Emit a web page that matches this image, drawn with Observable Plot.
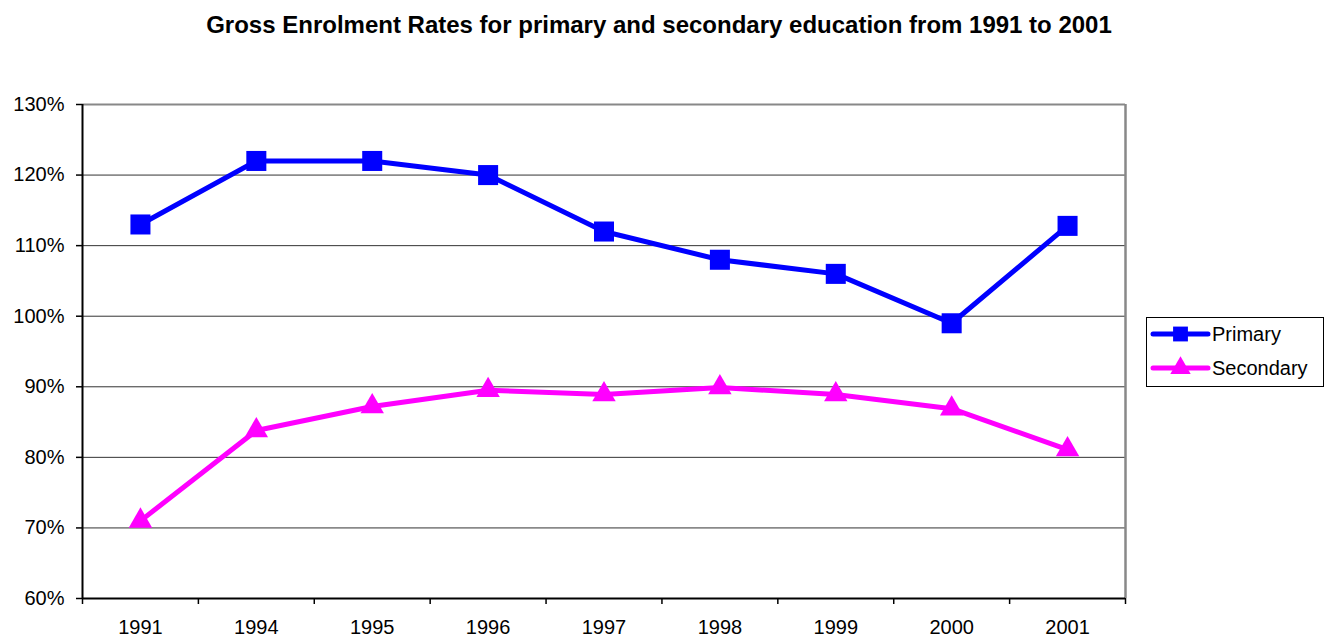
<!DOCTYPE html>
<html>
<head>
<meta charset="utf-8">
<script src="https://cdn.jsdelivr.net/npm/d3@7"></script>
<script src="https://cdn.jsdelivr.net/npm/@observablehq/plot@0.6"></script>
<style>
  html, body { margin: 0; padding: 0; background: #fff; }
  #wrap { position: relative; width: 1330px; height: 639px; overflow: hidden; font-family: Arial, "Liberation Sans", sans-serif; }
  #legend { position: absolute; left: 1146px; top: 317px; }
</style>
</head>
<body>
<div id="wrap"></div>
<script>
const years = ["1991", "1994", "1995", "1996", "1997", "1998", "1999", "2000", "2001"];
const primary = [113, 122, 122, 120, 112, 108, 106, 99, 112.8];
const secondary = [71, 83.8, 87.2, 89.5, 88.9, 89.9, 88.9, 86.9, 81.1];
const seriesNames = ["Primary", "Secondary"];
const yTicks = [60, 70, 80, 90, 100, 110, 120, 130];
const titleText = "Gross Enrolment Rates for primary and secondary education from 1991 to 2001";

const blue = "#0000FF", magenta = "#FF00FF";
const idx = years.map((_, i) => i);
const bounds = d3.range(years.length + 1).map(i => i - 0.5);
const pData = idx.map(i => ({i, v: primary[i]}));
const sData = idx.map(i => ({i, v: secondary[i]}));

const chart = Plot.plot({
  width: 1330,
  height: 639,
  marginLeft: 82,
  marginRight: 205,
  marginTop: 104,
  marginBottom: 41,
  style: { fontFamily: 'Arial, "Liberation Sans", sans-serif', fontSize: "20px", color: "black", background: "white", overflow: "visible" },
  x: { type: "linear", domain: [-0.5, years.length - 0.5], label: null },
  y: { domain: [60, 130], label: null },
  marks: [
    Plot.ruleY(yTicks.filter(d => d > 60 && d < 130), { stroke: "#333", strokeWidth: 1 }),
    Plot.ruleY([130], { stroke: "#888", strokeWidth: 2 }),
    Plot.ruleX([years.length - 0.5], { stroke: "#888", strokeWidth: 2.5 }),
    Plot.ruleX([-0.5], { stroke: "#000", strokeWidth: 2 }),
    Plot.ruleY([60], { stroke: "#000", strokeWidth: 2 }),
    Plot.axisY({ ticks: yTicks, tickSize: 6, tickPadding: 12, tickFormat: d => d + "%", fontSize: 20, strokeWidth: 1.5, label: null }),
    Plot.axisX({ ticks: bounds, tickSize: 6, tickFormat: () => "", strokeWidth: 1.5, label: null }),
    Plot.axisX({ ticks: idx, tickSize: 0, tickPadding: 21, tickFormat: i => years[i], fontSize: 20, label: null }),
    Plot.line(pData, { x: "i", y: "v", stroke: blue, strokeWidth: 5 }),
    Plot.dot(pData, { x: "i", y: "v", symbol: "square", r: 11.3, fill: blue, stroke: "none" }),
    Plot.line(sData, { x: "i", y: "v", stroke: magenta, strokeWidth: 5 }),
    Plot.dot(sData, { x: "i", y: "v", symbol: "triangle", r: 8.7, fill: magenta, stroke: "none" }),
    Plot.text([titleText], { frameAnchor: "top", lineAnchor: "middle", dy: -79, dx: 55, fontWeight: "bold", fontSize: 24, fill: "black" })
  ]
});
document.getElementById("wrap").appendChild(chart);

// Legend
const leg = d3.select("#wrap").append("svg").attr("id", "legend")
  .attr("width", 178).attr("height", 70);
leg.append("rect").attr("x", 0.5).attr("y", 0.5).attr("width", 177).attr("height", 69)
  .attr("fill", "white").attr("stroke", "black").attr("stroke-width", 1);
const colors = [blue, magenta];
const syms = [d3.symbolSquare, d3.symbolTriangle];
const sizes = [220, 180];
seriesNames.forEach((name, k) => {
  const cy = 17 + k * 34;
  const g = leg.append("g");
  g.append("line").attr("x1", 7).attr("x2", 62).attr("y1", cy).attr("y2", cy)
    .attr("stroke", colors[k]).attr("stroke-width", 5).attr("stroke-linecap", "round");
  g.append("path").attr("d", d3.symbol(syms[k], sizes[k])()).attr("transform", `translate(34.5,${cy})`)
    .attr("fill", colors[k]);
  g.append("text").attr("x", 66).attr("y", cy).attr("dy", "0.35em")
    .attr("font-family", 'Arial, "Liberation Sans", sans-serif').attr("font-size", 20).attr("fill", "black")
    .text(name);
});
</script>
</body>
</html>
